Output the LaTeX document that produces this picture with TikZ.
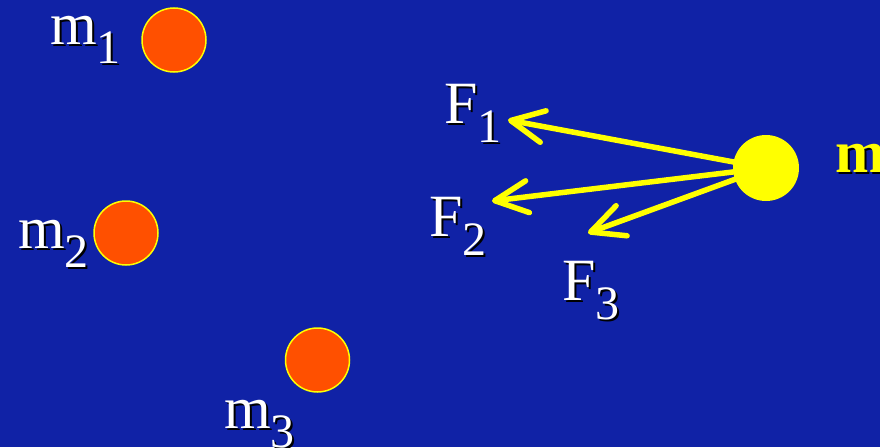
\documentclass[tikz,border=0pt]{standalone}
\usepackage{fontspec}
\setmainfont{Liberation Serif}
\usetikzlibrary{arrows.meta}
\definecolor{bg}{RGB}{16,34,166}
\definecolor{orb}{RGB}{255,80,0}
\definecolor{yel}{RGB}{255,255,0}
\newcommand{\sublbl}[2]{#1\raisebox{-19pt}{\fontsize{48}{48}\selectfont #2}}
\tikzset{
  lbl/.style={anchor=base west, inner sep=0pt, text=white, font=\fontsize{60}{60}\selectfont},
  shd/.style={anchor=base west, inner sep=0pt, text=black, font=\fontsize{60}{60}\selectfont},
  mass/.style={circle, fill=orb, draw=yel, line width=1.5pt, minimum size=64pt, inner sep=0pt},
  force/.style={draw=yel, line width=5.5pt, line cap=round, -{Straight Barb[length=33pt,width=32pt,round]}}
}
\begin{document}
\begin{tikzpicture}[x=1pt,y=-1pt]
\useasboundingbox (0,0) rectangle (880,447);
\fill[bg] (0,0) rectangle (880,447);
% masses
\node[mass] (m1) at (174,40) {};
\node[mass] (m2) at (126,233) {};
\node[mass] (m3) at (317.5,360) {};
% labels
\node[shd] (m1s) at (52,46) {\sublbl{m}{1}};
\node[lbl] (m1l) at (50,44) {\sublbl{m}{1}};
\node[shd] (m2s) at (20,250) {\sublbl{m}{2}};
\node[lbl] (m2l) at (18,248) {\sublbl{m}{2}};
\node[shd] (m3s) at (226,430) {\sublbl{m}{3}};
\node[lbl] (m3l) at (224,428) {\sublbl{m}{3}};
\node[shd] (F1s) at (446,125) {\sublbl{F}{1}};
\node[lbl] (F1l) at (444,123) {\sublbl{F}{1}};
\node[shd] (F2s) at (431,238) {\sublbl{F}{2}};
\node[lbl] (F2l) at (429,236) {\sublbl{F}{2}};
\node[shd] (F3s) at (564,302) {\sublbl{F}{3}};
\node[lbl] (F3l) at (562,300) {\sublbl{F}{3}};
% forces
\coordinate (M0) at (766,168);
\coordinate (t1) at (508,120);
\coordinate (t2) at (492,201);
\coordinate (t3) at (588,233);
\draw[force] (M0) -- (t1);
\draw[force] (M0) -- (t2);
\draw[force] (M0) -- (t3);
\node[circle, fill=yel, minimum size=66pt, inner sep=0pt] (M) at (M0) {};
\node[shd, text=black, font=\fontsize{60}{60}\selectfont\bfseries] (Ms) at (837,174) {m};
\node[lbl, text=yel, font=\fontsize{60}{60}\selectfont\bfseries] (Ml) at (835,172) {m};
\end{tikzpicture}
\end{document}
